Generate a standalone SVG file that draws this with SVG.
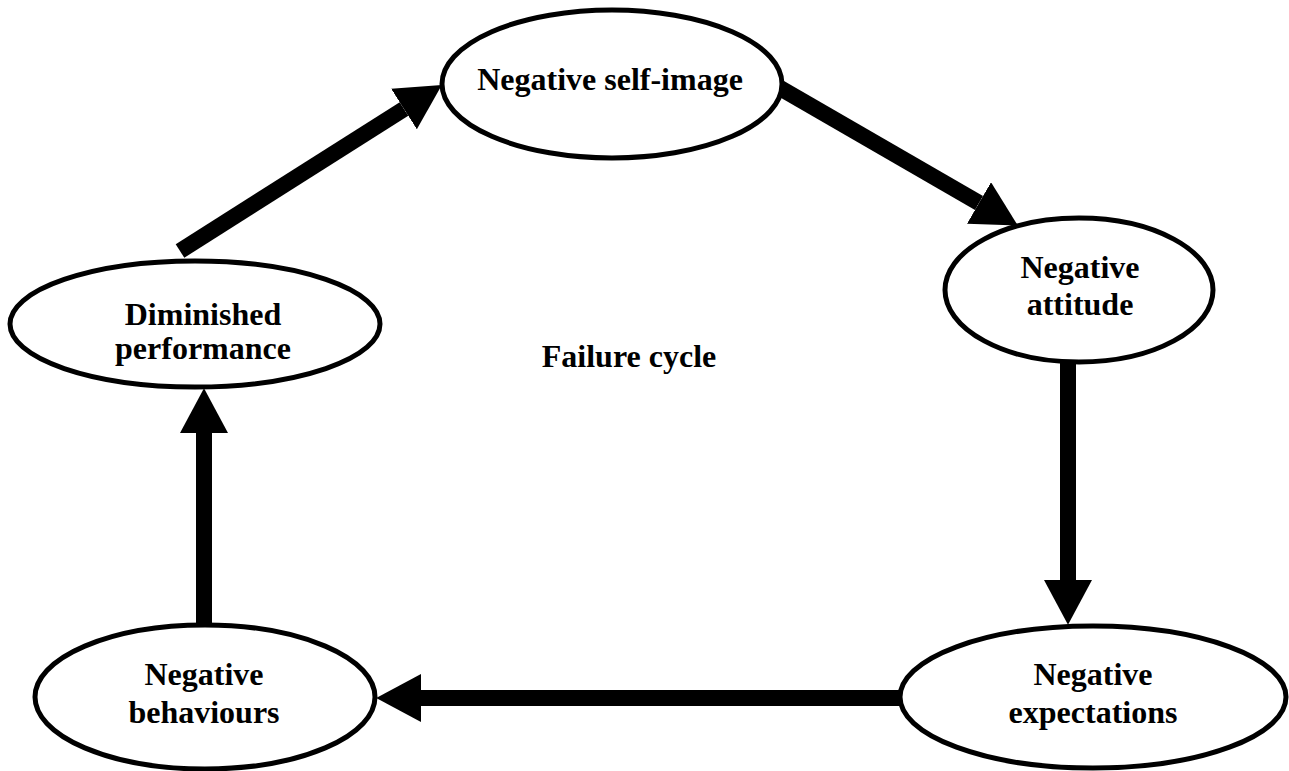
<svg xmlns="http://www.w3.org/2000/svg" width="1289" height="771" viewBox="0 0 1289 771">
<style>
.node ellipse{fill:#fff;stroke:#000;stroke-width:5}
text{font-family:"Liberation Serif","Times New Roman",serif;font-weight:bold;font-size:32px;fill:#000;text-anchor:middle}
.conn line{stroke:#000;stroke-width:16;fill:none}
</style>
<defs>
<marker id="ah" viewBox="0 -1.5 2.8 3" refX="0" refY="0" markerWidth="2.8" markerHeight="3" orient="auto" markerUnits="strokeWidth">
<path d="M0,-1.5 L2.8,0 L0,1.5 z" fill="#000"/>
</marker>
<clipPath id="dimclip"><rect x="0" y="250" width="420" height="116"/></clipPath>
</defs>
<rect width="1289" height="771" fill="#fff"/>
<g class="conn">
<line x1="180" y1="251" x2="404" y2="109" marker-end="url(#ah)"/>
<line x1="780" y1="88" x2="979" y2="203" marker-end="url(#ah)"/>
<line x1="1068" y1="362" x2="1068" y2="580" marker-end="url(#ah)"/>
<line x1="900" y1="698" x2="421" y2="698" marker-end="url(#ah)"/>
<line x1="204" y1="626" x2="204" y2="433" marker-end="url(#ah)"/>
</g>
<g id="self-image" class="node">
<ellipse cx="612" cy="84" rx="170" ry="74"/>
<text x="610" y="90">Negative self-image</text>
</g>
<g id="attitude" class="node">
<ellipse cx="1079" cy="290" rx="134" ry="72"/>
<text x="1080" y="278">Negative</text>
<text x="1080" y="315">attitude</text>
</g>
<g id="expectations" class="node">
<ellipse cx="1093" cy="697" rx="193" ry="71"/>
<text x="1093" y="685">Negative</text>
<text x="1093" y="723">expectations</text>
</g>
<g id="behaviours" class="node">
<ellipse cx="205" cy="697" rx="170" ry="72"/>
<text x="204" y="685">Negative</text>
<text x="204" y="723">behaviours</text>
</g>
<g id="diminished" class="node">
<ellipse cx="195" cy="324" rx="185" ry="63"/>
<g clip-path="url(#dimclip)">
<text x="203" y="325">Diminished</text>
<text x="203" y="359">performance</text>
</g>
</g>
<g id="label">
<text x="629" y="367">Failure cycle</text>
</g>
</svg>
